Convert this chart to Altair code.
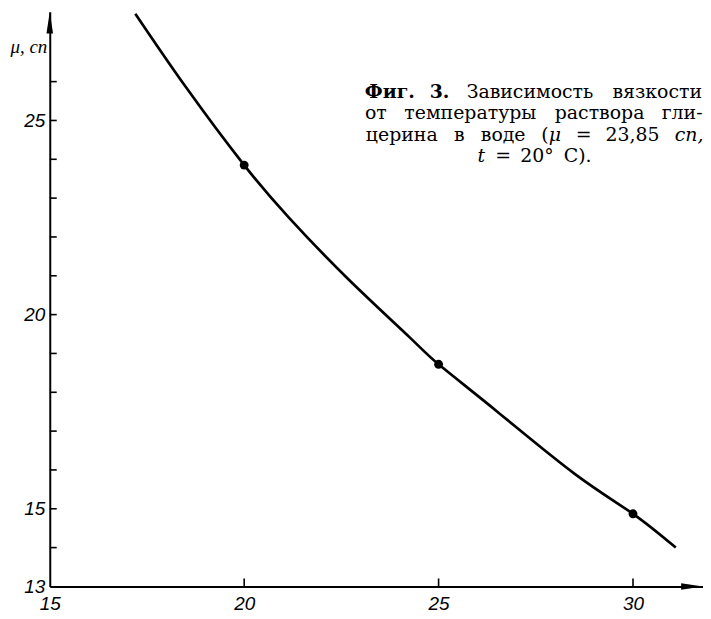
import altair as alt
import pandas as pd

# ---------------- data ----------------
curve_t = [17.2, 18.5, 20.0, 21.15, 22.64, 24.25, 25.0, 26.51, 28.5, 30.0, 31.1]
curve_mu = [27.75, 25.86, 23.85, 22.50, 20.95, 19.42, 18.72, 17.50, 15.90, 14.87, 14.0]
meas_t = [20, 25, 30]
meas_mu = [23.85, 18.72, 14.87]
x_tick_values = [20, 25, 30]
x_label_values = [15, 20, 25, 30]
y_tick_values = list(range(14, 27))
y_label_values = [13, 15, 20, 25]
y_title = "μ, сп"

caption_words = ["Фиг.", "3.", "Зависимость", "вязкости",
                 "от", "температуры", "раствора", "гли-",
                 "церина", "в", "воде", "(", "μ", "=", "23,85", "сп,",
                 "t", "=", "20°", "С)."]
caption_style = ["b", "b", "n", "n",
                 "n", "n", "n", "n",
                 "n", "n", "n", "n", "i", "n", "n", "i",
                 "i", "n", "n", "n"]

# ---------------- layout ----------------
W, H = 657, 578
OX, OY = 50, 10  # page position of plot origin
caption_xy = [(392, 97), (442, 97), (533, 97), (661, 97),
              (378, 118), (473, 118), (603, 118), (686, 118),
              (404, 140), (462, 140), (506, 140), (548, 140), (558, 140),
              (587, 140), (636, 140), (693, 140),
              (484, 161), (506, 161), (540, 161), (581, 161)]

xs = alt.Scale(domain=[15, 31.8], nice=False, zero=False)
ys = alt.Scale(domain=[13, 27.8], nice=False, zero=False)
LABEL_FONT = "Liberation Sans Narrow, Liberation Sans, sans-serif"
SERIF = "DejaVu Serif, Liberation Serif, serif"

X_AX = alt.Axis(
    values=x_label_values, format="d", title=None, grid=False, ticks=False,
    domainColor="black", domainWidth=2, labelFont=LABEL_FONT,
    labelFontStyle="italic", labelFontSize=19, labelColor="black",
    labelPadding=8, labelFlush=False)
Y_AX = alt.Axis(
    values=y_label_values, format="d", title=y_title, titleAngle=0,
    titleAlign="left", titleBaseline="alphabetic", titleX=-40, titleY=41,
    titleFont="Liberation Serif, serif", titleFontStyle="italic",
    titleFontWeight="normal", titleFontSize=19, titleColor="black",
    grid=False, ticks=False, domainColor="black", domainWidth=2,
    labelFont=LABEL_FONT, labelFontStyle="italic", labelFontSize=19,
    labelColor="black", labelPadding=5)

curve_df = pd.DataFrame({"t": curve_t, "mu": curve_mu})
meas_df = pd.DataFrame({"t": meas_t, "mu": meas_mu})

line = alt.Chart(curve_df).mark_line(
    color="black", strokeWidth=2.7, interpolate="natural"
).encode(
    x=alt.X("t:Q", scale=xs, axis=X_AX),
    y=alt.Y("mu:Q", scale=ys, axis=Y_AX),
)

points = alt.Chart(meas_df).mark_circle(size=80, color="black", opacity=1).encode(
    x=alt.X("t:Q", scale=xs, axis=X_AX),
    y=alt.Y("mu:Q", scale=ys, axis=Y_AX),
)

yticks = alt.Chart(pd.DataFrame({"mu": y_tick_values})).mark_rule(
    color="black", strokeWidth=1.6
).encode(y=alt.Y("mu:Q", scale=ys, axis=Y_AX), x=alt.value(0), x2=alt.value(7))

xticks = alt.Chart(pd.DataFrame({"t": x_tick_values})).mark_rule(
    color="black", strokeWidth=1.6
).encode(x=alt.X("t:Q", scale=xs, axis=X_AX), y=alt.value(H), y2=alt.value(H - 8))

one = pd.DataFrame({"a": [0]})
arrow_up = alt.Chart(one).mark_point(
    shape="M0,-1L0.3,1L-0.3,1Z", filled=True, color="black", size=484, opacity=1
).encode(x=alt.value(0), y=alt.value(11))
arrow_right = alt.Chart(one).mark_point(
    shape="M1,0L-1,-0.3L-1,0.3Z", filled=True, color="black", size=484, opacity=1
).encode(x=alt.value(W - 11), y=alt.value(H))

layers = [line, points, yticks, xticks, arrow_up, arrow_right]
for word, style, (px, py) in zip(caption_words, caption_style, caption_xy):
    kw = {}
    if style == "b":
        kw["fontWeight"] = "bold"
    if style == "i":
        kw["fontStyle"] = "italic"
    layers.append(
        alt.Chart(one).mark_text(
            font=SERIF, fontSize=19, color="black", align="center",
            baseline="alphabetic", **kw
        ).encode(x=alt.value(px - OX), y=alt.value(py - OY), text=alt.value(word))
    )

chart = alt.layer(*layers).properties(
    width=W, height=H,
    autosize=alt.AutoSizeParams(type="none"),
    padding={"left": 42, "top": 2, "right": 0, "bottom": 30},
    background="white",
).configure_view(stroke=None)

chart.save("out.html", embed_options={"renderer": "svg", "actions": False})
